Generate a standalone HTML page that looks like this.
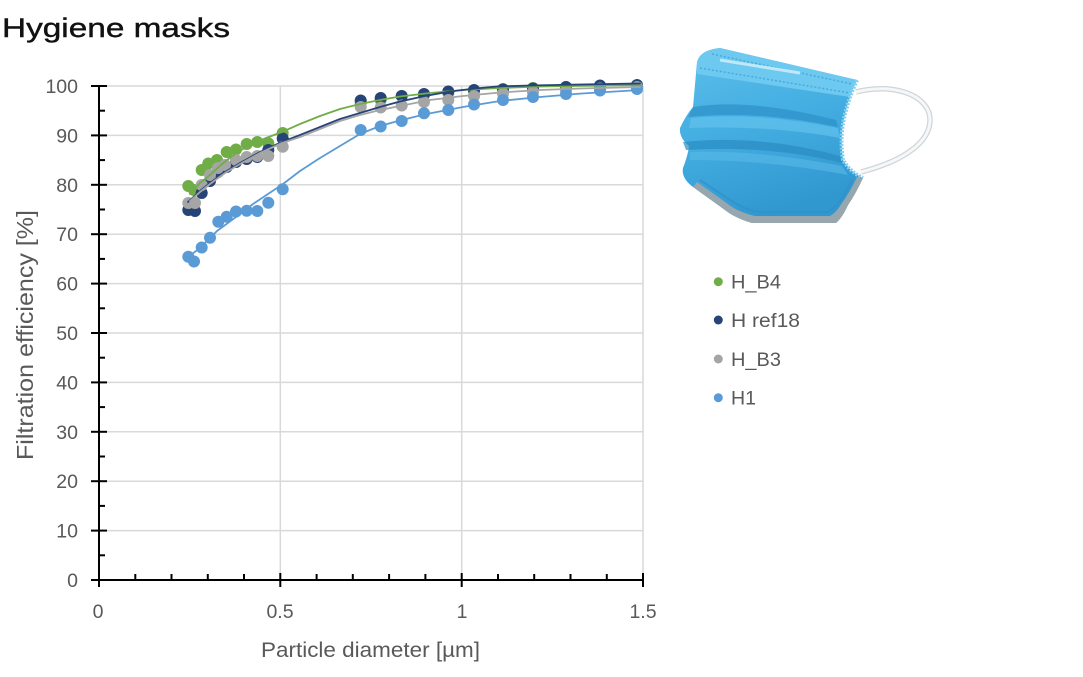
<!DOCTYPE html>
<html>
<head>
<meta charset="utf-8">
<style>
html,body{margin:0;padding:0;background:#fff;}
svg{display:block;}
text{font-family:"Liberation Sans",Arial,sans-serif;}
</style>
</head>
<body>
<svg width="1083" height="677" viewBox="0 0 1083 677" xmlns="http://www.w3.org/2000/svg">
<defs>
  <linearGradient id="mg" x1="0" y1="0" x2="0.3" y2="1">
    <stop offset="0" stop-color="#5cbfea"/>
    <stop offset="0.5" stop-color="#44aee2"/>
    <stop offset="1" stop-color="#3198cf"/>
  </linearGradient>
</defs>
<rect width="1083" height="677" fill="#fff"/>

<!-- Title -->
<text x="2" y="37" font-size="27" fill="#111" stroke="#111" stroke-width="0.4" textLength="228" lengthAdjust="spacingAndGlyphs">Hygiene masks</text>

<!-- Gridlines -->
<g stroke="#d9d9d9" stroke-width="1.5">
  <line x1="99" y1="86" x2="643" y2="86"/>
  <line x1="99" y1="135.4" x2="643" y2="135.4"/>
  <line x1="99" y1="184.8" x2="643" y2="184.8"/>
  <line x1="99" y1="234.2" x2="643" y2="234.2"/>
  <line x1="99" y1="283.6" x2="643" y2="283.6"/>
  <line x1="99" y1="333" x2="643" y2="333"/>
  <line x1="99" y1="382.4" x2="643" y2="382.4"/>
  <line x1="99" y1="431.8" x2="643" y2="431.8"/>
  <line x1="99" y1="481.2" x2="643" y2="481.2"/>
  <line x1="99" y1="530.6" x2="643" y2="530.6"/>
  <line x1="280.3" y1="86" x2="280.3" y2="580"/>
  <line x1="461.7" y1="86" x2="461.7" y2="580"/>
  <line x1="643" y1="86" x2="643" y2="580"/>
</g>

<!-- Axes -->
<g stroke="#000" stroke-width="2">
  <line x1="99" y1="85" x2="99" y2="581"/>
  <line x1="91" y1="580" x2="643" y2="580"/>
  <!-- y major ticks -->
  <line x1="91" y1="86" x2="107" y2="86"/>
  <line x1="91" y1="135.4" x2="107" y2="135.4"/>
  <line x1="91" y1="184.8" x2="107" y2="184.8"/>
  <line x1="91" y1="234.2" x2="107" y2="234.2"/>
  <line x1="91" y1="283.6" x2="107" y2="283.6"/>
  <line x1="91" y1="333" x2="107" y2="333"/>
  <line x1="91" y1="382.4" x2="107" y2="382.4"/>
  <line x1="91" y1="431.8" x2="107" y2="431.8"/>
  <line x1="91" y1="481.2" x2="107" y2="481.2"/>
  <line x1="91" y1="530.6" x2="107" y2="530.6"/>
  <!-- y minor ticks -->
  <line x1="99" y1="110.7" x2="105" y2="110.7"/>
  <line x1="99" y1="160.1" x2="105" y2="160.1"/>
  <line x1="99" y1="209.5" x2="105" y2="209.5"/>
  <line x1="99" y1="258.9" x2="105" y2="258.9"/>
  <line x1="99" y1="308.3" x2="105" y2="308.3"/>
  <line x1="99" y1="357.7" x2="105" y2="357.7"/>
  <line x1="99" y1="407.1" x2="105" y2="407.1"/>
  <line x1="99" y1="456.5" x2="105" y2="456.5"/>
  <line x1="99" y1="505.9" x2="105" y2="505.9"/>
  <line x1="99" y1="555.3" x2="105" y2="555.3"/>
  <!-- x major ticks -->
  <line x1="99" y1="573" x2="99" y2="587"/>
  <line x1="280.3" y1="573" x2="280.3" y2="587"/>
  <line x1="461.7" y1="573" x2="461.7" y2="587"/>
  <line x1="643" y1="573" x2="643" y2="587"/>
  <!-- x minor ticks -->
  <line x1="135.3" y1="574" x2="135.3" y2="580"/>
  <line x1="171.5" y1="574" x2="171.5" y2="580"/>
  <line x1="207.8" y1="574" x2="207.8" y2="580"/>
  <line x1="244" y1="574" x2="244" y2="580"/>
  <line x1="316.6" y1="574" x2="316.6" y2="580"/>
  <line x1="352.8" y1="574" x2="352.8" y2="580"/>
  <line x1="389.1" y1="574" x2="389.1" y2="580"/>
  <line x1="425.4" y1="574" x2="425.4" y2="580"/>
  <line x1="498" y1="574" x2="498" y2="580"/>
  <line x1="534.2" y1="574" x2="534.2" y2="580"/>
  <line x1="570.5" y1="574" x2="570.5" y2="580"/>
  <line x1="606.8" y1="574" x2="606.8" y2="580"/>
</g>

<!-- Y tick labels -->
<g font-size="19.5" fill="#595959" text-anchor="end">
  <text x="78" y="93">100</text>
  <text x="78" y="142.4">90</text>
  <text x="78" y="191.8">80</text>
  <text x="78" y="241.2">70</text>
  <text x="78" y="290.6">60</text>
  <text x="78" y="340">50</text>
  <text x="78" y="389.4">40</text>
  <text x="78" y="438.8">30</text>
  <text x="78" y="488.2">20</text>
  <text x="78" y="537.6">10</text>
  <text x="78" y="587">0</text>
</g>
<!-- X tick labels -->
<g font-size="19.5" fill="#595959" text-anchor="middle">
  <text x="98" y="618">0</text>
  <text x="280" y="618">0.5</text>
  <text x="462" y="618">1</text>
  <text x="643" y="618">1.5</text>
</g>

<!-- Axis titles -->
<text x="261" y="657" font-size="21" fill="#595959" textLength="219" lengthAdjust="spacingAndGlyphs">Particle diameter [µm]</text>
<text transform="translate(33,460) rotate(-90)" x="0" y="0" font-size="23" fill="#595959" textLength="250" lengthAdjust="spacingAndGlyphs">Filtration efficiency [%]</text>

<!-- Markers -->
<g fill="#70ad47">
  <circle cx="188.3" cy="186" r="6"/>
  <circle cx="194" cy="190" r="6"/>
  <circle cx="201.7" cy="170" r="6"/>
  <circle cx="208.3" cy="163.5" r="6"/>
  <circle cx="217" cy="160" r="6"/>
  <circle cx="226.7" cy="152" r="6"/>
  <circle cx="236" cy="149.5" r="6"/>
  <circle cx="246.7" cy="144" r="6"/>
  <circle cx="257.3" cy="142" r="6"/>
  <circle cx="268.3" cy="143.3" r="6"/>
  <circle cx="282.7" cy="133" r="6"/>
  <circle cx="360.7" cy="103" r="6"/>
  <circle cx="380.7" cy="100" r="6"/>
  <circle cx="401.7" cy="96" r="6"/>
  <circle cx="424" cy="95" r="6"/>
  <circle cx="448.3" cy="93" r="6"/>
  <circle cx="474" cy="91" r="6"/>
  <circle cx="503" cy="89" r="6"/>
  <circle cx="533" cy="88" r="6"/>
  <circle cx="566" cy="87" r="6"/>
  <circle cx="600" cy="86" r="6"/>
  <circle cx="637" cy="85.5" r="6"/>
</g>
<g fill="#264478">
  <circle cx="188.3" cy="210" r="6"/>
  <circle cx="195" cy="211" r="6"/>
  <circle cx="201.7" cy="193" r="6"/>
  <circle cx="210" cy="181" r="6"/>
  <circle cx="218" cy="172" r="6"/>
  <circle cx="226.7" cy="167" r="6"/>
  <circle cx="236" cy="162" r="6"/>
  <circle cx="246.7" cy="159" r="6"/>
  <circle cx="257.3" cy="157" r="6"/>
  <circle cx="268.3" cy="150" r="6"/>
  <circle cx="282.7" cy="138.5" r="6"/>
  <circle cx="360.7" cy="100.5" r="6"/>
  <circle cx="380.7" cy="98" r="6"/>
  <circle cx="401.7" cy="96" r="6"/>
  <circle cx="424" cy="94" r="6"/>
  <circle cx="448.3" cy="91.5" r="6"/>
  <circle cx="474" cy="90" r="6"/>
  <circle cx="503" cy="89.5" r="6"/>
  <circle cx="533" cy="88.5" r="6"/>
  <circle cx="566" cy="87" r="6"/>
  <circle cx="600" cy="85.5" r="6"/>
  <circle cx="637" cy="85" r="6"/>
</g>
<g fill="#a5a5a5">
  <circle cx="188.3" cy="203" r="6"/>
  <circle cx="195" cy="203" r="6"/>
  <circle cx="201.7" cy="185" r="6"/>
  <circle cx="210" cy="175" r="6"/>
  <circle cx="218" cy="168" r="6"/>
  <circle cx="225" cy="165" r="6"/>
  <circle cx="236" cy="160" r="6"/>
  <circle cx="246.7" cy="157" r="6"/>
  <circle cx="257.3" cy="156" r="6"/>
  <circle cx="268.3" cy="156" r="6"/>
  <circle cx="282.7" cy="146.7" r="6"/>
  <circle cx="360.7" cy="107" r="6"/>
  <circle cx="380.7" cy="107.5" r="6"/>
  <circle cx="401.7" cy="105.5" r="6"/>
  <circle cx="424" cy="102" r="6"/>
  <circle cx="448.3" cy="100" r="6"/>
  <circle cx="474" cy="96" r="6"/>
  <circle cx="503" cy="93.5" r="6"/>
  <circle cx="533" cy="92" r="6"/>
  <circle cx="566" cy="90" r="6"/>
  <circle cx="600" cy="88.5" r="6"/>
  <circle cx="637" cy="87" r="6"/>
</g>
<g fill="#5b9bd5">
  <circle cx="188.3" cy="256.7" r="6"/>
  <circle cx="194" cy="261.5" r="6"/>
  <circle cx="201.7" cy="247.5" r="6"/>
  <circle cx="210" cy="237.7" r="6"/>
  <circle cx="218.3" cy="221.7" r="6"/>
  <circle cx="226.7" cy="216.7" r="6"/>
  <circle cx="236" cy="211.5" r="6"/>
  <circle cx="246.7" cy="210.7" r="6"/>
  <circle cx="257.3" cy="211" r="6"/>
  <circle cx="268.3" cy="202.7" r="6"/>
  <circle cx="282.7" cy="189.3" r="6"/>
  <circle cx="360.7" cy="130" r="6"/>
  <circle cx="380.7" cy="126.5" r="6"/>
  <circle cx="401.7" cy="121" r="6"/>
  <circle cx="424" cy="113.3" r="6"/>
  <circle cx="448.3" cy="110" r="6"/>
  <circle cx="474" cy="104.5" r="6"/>
  <circle cx="503" cy="100" r="6"/>
  <circle cx="533" cy="97" r="6"/>
  <circle cx="566" cy="94" r="6"/>
  <circle cx="600" cy="90.5" r="6"/>
  <circle cx="637" cy="89" r="6"/>
</g>

<!-- Trend lines -->
<g fill="none" stroke-width="1.8" stroke-linejoin="round" stroke-linecap="round">
  <polyline stroke="#70ad47" points="190,194 200,183 210,175 222,164 236,153 250,145 266,138 282,132 300,124 320,116 340,109 360,104 380,100 400,96.5 430,93 463,90 500,88 540,86.5 580,85.8 640,85"/>
  <polyline stroke="#264478" points="188,202 200,191 210,183 225,172 240,163 260,152 282,142 300,135 320,127 340,119 360,113 380,107 400,101.5 425,96 450,91.5 475,88.5 497,86.5 530,85.5 580,84.5 640,83.5"/>
  <polyline stroke="#a5a5a5" points="190,201 200,192 210,184 225,173 240,164 260,153 282,143 300,137 320,129 340,121 360,115 380,110 400,106 430,100 463,96 500,92.5 540,90 580,88.5 640,87"/>
  <polyline stroke="#5b9bd5" points="188,257 200,248 217,231 236,217 253,204 268,194 283,184 300,171 320,158 340,146 360,134 380,126 400,120.5 424,114.5 463,107 500,101 540,97 580,93.6 640,90"/>
</g>

<!-- Legend -->
<g>
  <circle cx="718.3" cy="281.7" r="4.5" fill="#70ad47"/>
  <circle cx="718.3" cy="320" r="4.5" fill="#264478"/>
  <circle cx="718.3" cy="359" r="4.5" fill="#a5a5a5"/>
  <circle cx="718.3" cy="397.7" r="4.5" fill="#5b9bd5"/>
  <g font-size="19.5" fill="#595959">
    <text x="731" y="288.5" textLength="50" lengthAdjust="spacingAndGlyphs">H_B4</text>
    <text x="731" y="327" textLength="69" lengthAdjust="spacingAndGlyphs">H ref18</text>
    <text x="731" y="366" textLength="50" lengthAdjust="spacingAndGlyphs">H_B3</text>
    <text x="731" y="404.5" textLength="25" lengthAdjust="spacingAndGlyphs">H1</text>
  </g>
</g>

<!-- Mask illustration -->
<g>
  <!-- ear loop -->
  <path d="M856,92 C895,82 931,96 930,121 C929,146 896,163 861,172" fill="none" stroke="#cfd5d8" stroke-width="5.5"/>
  <path d="M856,92 C895,82 931,96 930,121 C929,146 896,163 861,172" fill="none" stroke="#f5f7f8" stroke-width="3"/>
  <!-- body -->
  <path d="M697,62 Q700,50 720,48 L857,80 Q850,95 846,110 Q839,135 843,160 Q850,172 863,178 Q855,195 848,205 Q842,218 836,223 L752,223 Q735,218 725,210 L693,187 Q681,178 683,168 Q688,155 689,146 Q679,138 680,128 Q686,115 693,107 Q695,85 697,62 Z" fill="url(#mg)"/>
  <!-- top band -->
  <path d="M697,62 Q700,50 720,48 L857,80 Q853,89 850,97 L697,74 Z" fill="#6dc9ef"/>
  <path d="M712,54 L852,84" stroke="#49a9dc" stroke-width="1.5" stroke-dasharray="2,2" fill="none"/>
  <path d="M700,68 L850,93" stroke="#49a9dc" stroke-width="1.5" stroke-dasharray="2,2" fill="none"/>
  <path d="M720,60 L800,73" stroke="#bfe8f8" stroke-width="3" fill="none"/>
  <!-- folds -->
  <path d="M693,107 Q750,98 836,120 L838,127 Q760,110 688,117 Z" fill="#2e92c8" opacity="0.75"/>
  <path d="M691,118 Q760,112 838,128 L840,138 Q770,125 689,128 Z" fill="#62c2ec" opacity="0.7"/>
  <path d="M683,142 Q760,134 840,156 L842,163 Q770,145 686,150 Z" fill="#2a8bc2" opacity="0.7"/>
  <path d="M690,152 Q760,150 842,166 L848,175 Q770,160 690,160 Z" fill="#58bbe8" opacity="0.6"/>
  <!-- right seam -->
  <path d="M857,80 Q850,95 846,110 Q839,135 843,160 Q850,172 863,178" fill="none" stroke="#7fd0f2" stroke-width="4" stroke-dasharray="2,1.5"/>
  <!-- bottom gray edge -->
  <path d="M693,187 L725,210 Q735,218 752,223 L836,223 Q842,218 848,205 Q855,195 863,178 L857,177 Q850,192 842,203 Q836,213 830,216 L755,216 Q738,212 728,204 L697,182 Z" fill="#98a6ae"/>
  <path d="M700,180 L730,200 Q745,210 760,212 L828,212 Q840,205 852,180" fill="none" stroke="#2f8fc4" stroke-width="2" opacity="0.6"/>
</g>
</svg>
</body>
</html>
